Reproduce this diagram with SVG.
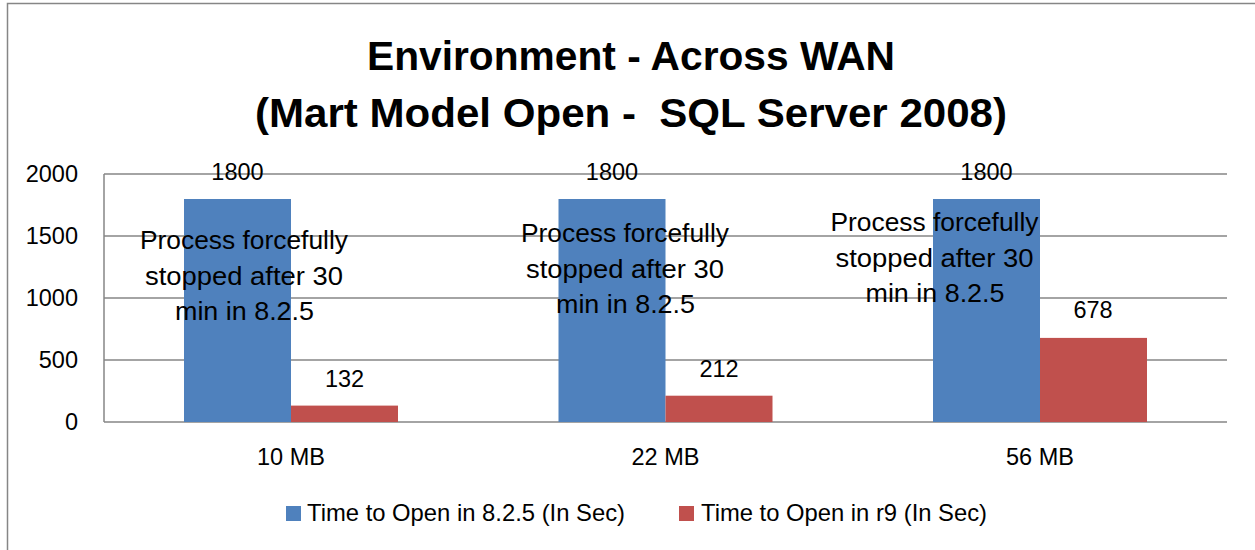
<svg xmlns="http://www.w3.org/2000/svg" width="1255" height="550" viewBox="0 0 1255 550">
<style>
text{font-family:"Liberation Sans",Arial,sans-serif;fill:#000}
.title{font-weight:bold;font-size:41px;text-anchor:middle;white-space:pre}
.ax{font-size:23.5px;text-anchor:end}
.cat{font-size:23.5px;text-anchor:middle}
.val{font-size:23.5px;text-anchor:middle}
.ann{font-size:26.5px;text-anchor:middle}
.leg{font-size:24px}
.grid{stroke:#868686;stroke-width:1.5;fill:none}
.b{fill:#4F81BD}
.r{fill:#C0504D}
</style>
<rect x="0" y="0" width="1255" height="550" fill="#fff"/>
<path d="M7.5,550 V3.5 H1255" fill="none" stroke="#868686" stroke-width="1.5"/>
<g id="title">
<text class="title" x="631" y="69.5" textLength="528" lengthAdjust="spacingAndGlyphs">Environment - Across WAN</text>
<text class="title" x="631" y="126.5" textLength="752" lengthAdjust="spacingAndGlyphs" xml:space="preserve">(Mart Model Open -  SQL Server 2008)</text>
</g>
<g id="gridlines">
<path class="grid" d="M104,174 H1227 M104,236 H1227 M104,298 H1227 M104,360 H1227 M104,422 H1227 M104,174 V422"/>
</g>
<g id="y-axis">
<text class="ax" x="78" y="182">2000</text>
<text class="ax" x="78" y="244">1500</text>
<text class="ax" x="78" y="306">1000</text>
<text class="ax" x="78" y="368">500</text>
<text class="ax" x="78" y="430">0</text>
</g>
<g id="group-10mb">
<rect class="b" x="184" y="199" width="107" height="223"/>
<rect class="r" x="291" y="405.6" width="107" height="16.4"/>
<text class="val" x="237.5" y="180">1800</text>
<text class="val" x="344.5" y="387">132</text>
<text class="ann" x="244" y="249" textLength="208" lengthAdjust="spacingAndGlyphs">Process forcefully</text>
<text class="ann" x="244" y="285" textLength="198" lengthAdjust="spacingAndGlyphs">stopped after 30</text>
<text class="ann" x="244.5" y="320" textLength="139" lengthAdjust="spacingAndGlyphs">min in 8.2.5</text>
<text class="cat" x="291" y="465">10 MB</text>
</g>
<g id="group-22mb">
<rect class="b" x="558.5" y="199" width="107" height="223"/>
<rect class="r" x="665.5" y="395.7" width="107" height="26.3"/>
<text class="val" x="612" y="180">1800</text>
<text class="val" x="719" y="377">212</text>
<text class="ann" x="625" y="242" textLength="208" lengthAdjust="spacingAndGlyphs">Process forcefully</text>
<text class="ann" x="625" y="278" textLength="198" lengthAdjust="spacingAndGlyphs">stopped after 30</text>
<text class="ann" x="625.5" y="313" textLength="139" lengthAdjust="spacingAndGlyphs">min in 8.2.5</text>
<text class="cat" x="665.5" y="465">22 MB</text>
</g>
<g id="group-56mb">
<rect class="b" x="933" y="199" width="107" height="223"/>
<rect class="r" x="1040" y="337.9" width="107" height="84.1"/>
<text class="val" x="986.5" y="180">1800</text>
<text class="val" x="1093" y="318">678</text>
<text class="ann" x="934.5" y="231" textLength="208" lengthAdjust="spacingAndGlyphs">Process forcefully</text>
<text class="ann" x="934.5" y="267" textLength="198" lengthAdjust="spacingAndGlyphs">stopped after 30</text>
<text class="ann" x="935" y="302" textLength="139" lengthAdjust="spacingAndGlyphs">min in 8.2.5</text>
<text class="cat" x="1040" y="465">56 MB</text>
</g>
<g id="legend">
<rect class="b" x="286" y="506" width="15" height="15"/>
<text class="leg" x="307" y="521" textLength="318" lengthAdjust="spacingAndGlyphs">Time to Open in 8.2.5 (In Sec)</text>
<rect class="r" x="679" y="506" width="15" height="15"/>
<text class="leg" x="701" y="521" textLength="286" lengthAdjust="spacingAndGlyphs">Time to Open in r9 (In Sec)</text>
</g>
</svg>
